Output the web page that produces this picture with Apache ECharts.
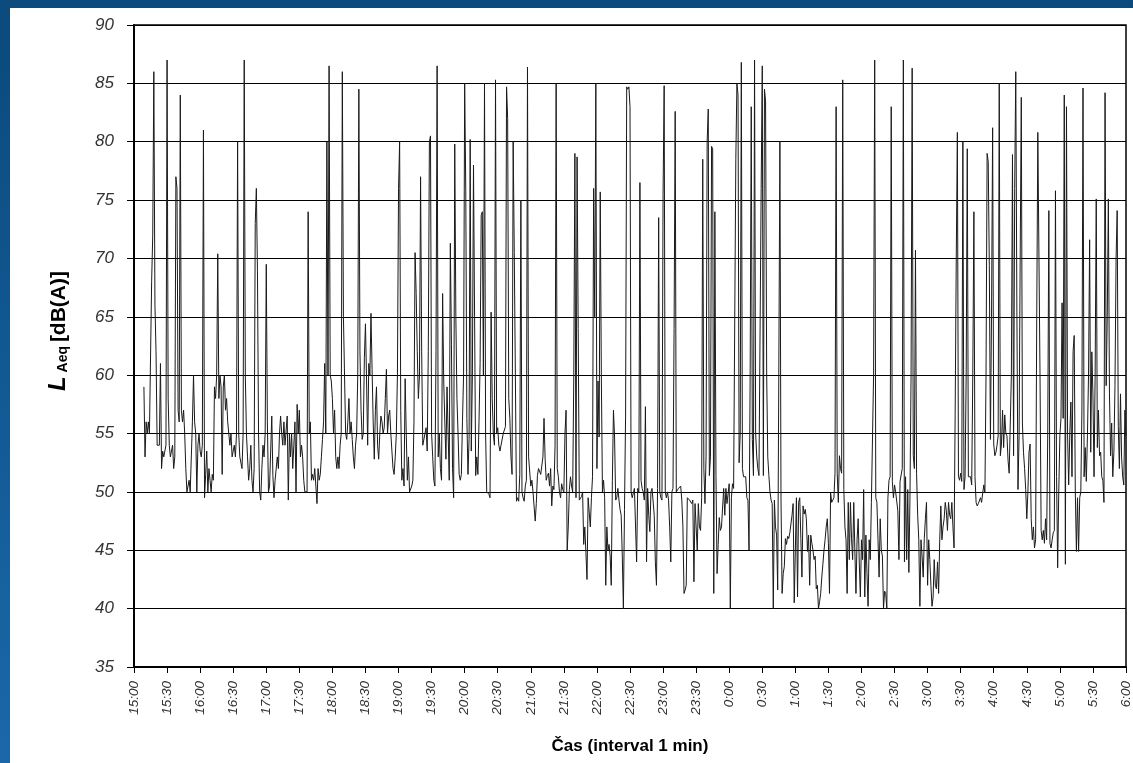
<!DOCTYPE html>
<html>
<head>
<meta charset="utf-8">
<script src="https://cdn.jsdelivr.net/npm/echarts@6/dist/echarts.min.js"></script>
<style>
html, body {
  margin: 0;
  padding: 0;
  width: 1133px;
  height: 763px;
  overflow: hidden;
  background: linear-gradient(to bottom, #0a4a7c 0%, #1a68aa 100%);
}
#chart {
  position: absolute;
  left: 10px;
  top: 8px;
  width: 1123px;
  height: 755px;
  background: #fff;
}
</style>
</head>
<body>
<div id="chart"></div>
<script>
// minutes counted from 15:00, one sample per minute
const startClock = 15 * 60
const startMinute = 9
const yTicks = [35, 40, 45, 50, 55, 60, 65, 70, 75, 80, 85, 90]

const laeq = [
  59, 53, 56, 55, 56, 55, 55, 68, 72, 86, 66,               // 15:09
  62, 54, 54, 54, 61, 52, 53.5, 53, 53, 54,                 // 15:20
  87, 58, 54, 53, 53, 54, 52, 53, 77, 76,                   // 15:30
  57, 56, 84, 57, 56, 57, 55, 52, 50, 50,
  51, 50, 50, 56, 60, 56, 55, 50, 54, 55,
  53.5, 53, 54, 81, 49.5, 51.5, 53.5, 50, 52, 51,           // 16:00
  50, 51.5, 51, 59, 58, 60, 70.4, 58, 60, 59,
  51.5, 59, 60, 57, 58, 56, 55, 54, 55, 53,
  53, 54, 53, 55, 80, 55, 53, 53, 52, 55,                   // 16:30
  87, 60, 55, 53, 51, 52, 54, 51, 50, 52,
  73, 76, 69, 55, 50, 49.3, 52, 54, 53, 55,
  69.5, 56, 50, 50.5, 50.5, 56.5, 51.4, 49.5, 51, 51,       // 17:00
  53, 52, 55, 56.5, 55, 54, 56, 54, 54, 56.5,
  49.3, 55, 53, 55, 52, 54, 56, 50, 57.5, 55,
  57, 53, 54, 53, 51, 50, 50, 50, 74, 55,                   // 17:30
  56, 51, 51.5, 51, 52, 50.5, 49, 52, 51, 51.5,
  53, 54.5, 56, 61, 55, 80, 60, 86.5, 60, 59.5,
  58, 55, 57, 53, 52, 53, 52, 54, 55, 86,                   // 18:00
  65, 65, 55, 54.5, 56, 58, 55, 56, 54.5, 53,
  52, 54, 55, 60, 84.5, 62, 57, 54.5, 55, 61.5,
  64.4, 59.5, 54, 61, 60, 65.3, 60.5, 56, 52.8, 57,         // 18:30
  59, 54, 52.8, 55, 56.5, 56, 55, 55.5, 58, 60.5,
  55, 56.5, 57, 55, 53.5, 52, 51.5, 53, 55, 60,
  76, 80, 57, 51, 52, 50.5, 59.7, 55, 51, 53,               // 19:00
  50, 50, 50.5, 51, 56, 70.5, 67, 62, 58, 60,
  77, 62, 54, 54, 55, 55.5, 53.5, 62, 80, 80.5,
  55, 53, 51, 50.5, 62, 86.5, 53, 55, 52, 51,               // 19:30
  67, 59.5, 56, 52.8, 59, 55, 51, 71.3, 62.6, 52,
  49.5, 79.8, 65, 58, 55, 51.5, 51, 51.5, 56, 60,
  85, 75.8, 56.3, 51.5, 54.5, 80.2, 53.5, 60, 78, 65,       // 20:00
  51.4, 53, 51.5, 56, 61, 73.7, 74, 60, 85, 55,
  50, 50, 49.8, 49.5, 65.4, 58, 55, 54, 85.3, 55,
  55.5, 54, 53.5, 54, 54, 55, 55.3, 55.6, 84.7, 82,         // 20:30
  58, 56.3, 53, 51.5, 80, 70.5, 60, 49.2, 49.5, 49.2,
  51.5, 75, 50, 49.5, 49.2, 50.5, 51, 86.4, 53, 53,
  50.5, 51, 50, 50, 47.5, 49, 51.4, 52, 52, 51.5,           // 21:00
  51.4, 53, 56.3, 52.8, 51, 51.4, 51.6, 50.5, 52, 48.8,
  50.5, 50.2, 54, 85, 52, 51.3, 50, 49.5, 50.7, 50.2,
  50, 55, 57, 45, 47, 50.2, 51.3, 50.5, 50, 60,             // 21:30
  79, 49.5, 78.7, 64, 49.3, 49.3, 49.6, 50, 45.5, 47,
  44.8, 42.5, 49.5, 49.5, 47, 49.5, 51.3, 76, 65, 85,
  52, 59.5, 54.7, 75.7, 60, 50, 51, 49.5, 42, 47,           // 22:00
  45, 45.5, 44.5, 42, 51, 57, 54.7, 49.3, 49.5, 50.3,
  49.3, 48.5, 48, 44.5, 40, 48.5, 56.5, 84.7, 84.5, 84.7,
  83, 50, 49.5, 49.5, 50.3, 50.3, 44, 50.3, 50, 76.5,       // 22:30
  51, 50.3, 50, 49.3, 57.3, 44, 50.3, 48, 46.6, 50,
  50.3, 50.3, 48, 44, 42, 50.3, 73.5, 50, 49.5, 49.3,
  75.5, 84.8, 50, 49.5, 50, 49.3, 47, 44, 50, 50.3,         // 23:00
  64, 82.6, 50, 50, 50.3, 50.3, 50.5, 49.3, 47, 41.3,
  41.6, 42, 49.5, 49.5, 49.3, 49.3, 49, 49.3, 42.3, 49,
  49, 45, 49, 47, 46.7, 49.5, 78.5, 52, 49, 53,             // 23:30
  80, 82.8, 51.4, 53, 79.6, 79.4, 41.3, 74, 51.4, 43,
  45.5, 47.8, 46.7, 47, 47, 50.3, 48, 50.3, 49, 49,
  50.7, 40, 49.5, 50.7, 50.3, 50.3, 78.5, 85, 84, 52.5,     // 0:00
  55, 86.8, 52, 51.3, 51.3, 51.3, 49.5, 49.3, 45, 60,
  83, 54.5, 51.4, 87, 55, 53, 52, 51.4, 51.5, 76,
  86.5, 51.4, 84.5, 83.5, 60, 53, 51.4, 50, 49.3, 49,       // 0:30
  40, 49.3, 47, 46.3, 41.6, 60, 80, 49.3, 41.3, 43,
  43.6, 46, 45.5, 46.2, 46, 46.5, 46.4, 48, 49, 40.5,
  40.5, 49.5, 41, 49.1, 49.5, 46, 42.7, 48.8, 48.1, 48.5,   // 1:00
  47.7, 44.9, 46.3, 42, 46.3, 45.6, 45, 44.2, 44.5, 41.7,
  42, 40, 40.6, 41.3, 42.7, 43.8, 45, 45.9, 47, 47.7,
  45.6, 41.3, 49.9, 49.1, 49.3, 49.5, 51.6, 83, 51.6, 49.1, // 1:30
  53.1, 52, 51.6, 85.3, 50.2, 47, 45.9, 41.3, 49.1, 44.2,
  49.1, 46, 44.2, 49.1, 45, 41.3, 45.9, 47.7, 44, 41,
  45.9, 44.2, 50.2, 41, 46.3, 43, 40.2, 45.9, 44.2, 49.1,   // 2:00
  49, 60, 87, 49.5, 49.1, 45.9, 42.7, 47.7, 45, 44.5,
  40, 41.5, 41.3, 40, 49.5, 51, 51.3, 83, 50.9, 49.5,
  50.6, 50, 49.9, 48.4, 44.2, 50.9, 51, 52, 87, 44,         // 2:30
  51.3, 44.2, 50.2, 43.1, 49.5, 60, 86.3, 53.1, 52, 70.7,
  51.6, 48, 45.9, 40.2, 45.9, 44.5, 42.7, 46, 47.7, 49.1,
  42, 45.9, 44.2, 42, 40.2, 41, 44.2, 42, 41.7, 44,         // 3:00
  41.3, 45.9, 48.8, 45.9, 47, 47.7, 49.1, 48.4, 46.7, 49.1,
  48, 47.7, 49.1, 47, 45.2, 56.6, 70, 80.8, 51.3, 51,
  51.6, 50.9, 80, 50.2, 51.3, 60, 79.4, 51.3, 51.3, 51.3,   // 3:30
  50.6, 60, 74, 51.3, 49.1, 48.8, 49, 49.1, 49.5, 49.1,
  49.9, 50.6, 49.9, 60, 79, 78.3, 69.4, 54.5, 65, 81.2,
  54.1, 53.1, 53.4, 54, 54.8, 85, 53.1, 54.1, 57, 53.8,     // 4:00
  56.6, 55, 54.8, 52.7, 51.6, 51.6, 60, 78.9, 53.1, 76,
  86, 65.5, 50.2, 54.8, 70, 83.8, 55.9, 53.4, 52, 50.2,
  47.7, 50, 53.4, 54.1, 47.7, 45.9, 47, 45.2, 45.9, 64.8,   // 4:30
  80.8, 80.8, 60, 46.7, 45.9, 46.7, 45.6, 47.7, 45.9, 55,
  74.1, 45.6, 45.2, 45.9, 46.5, 46.7, 75.8, 51.3, 43.5, 50,
  54.8, 56.3, 66.2, 56.3, 84, 43.8, 83, 54.8, 50.6, 55,     // 5:00
  57.7, 51.3, 62, 63.4, 50, 44.9, 49.5, 44.9, 49.5, 50,
  57, 84.6, 51.3, 53.8, 50.9, 54.8, 60, 71.6, 53.4, 62,
  58.4, 51.3, 60, 75.1, 53.8, 57, 53.1, 53.4, 51.3, 51,     // 5:30
  49.1, 84.2, 59.1, 65, 75.1, 58.4, 53.1, 55.9, 51.3, 53.4,
  59.1, 70, 74.1, 55.6, 52, 58.4, 53, 51.3, 50.6, 57,
  54.8                                                       // 6:00
]

const seriesData = laeq.map((v, i) => [startMinute + i, v])

function clockLabel(m) {
  const t = (startClock + m) % 1440
  const h = Math.floor(t / 60)
  const mm = t % 60
  return h + ':' + (mm < 10 ? '0' : '') + mm
}

const chart = echarts.init(document.getElementById('chart'), null, { renderer: 'canvas' })

chart.setOption({
  animation: false,
  backgroundColor: '#fff',
  textStyle: { fontFamily: 'Liberation Sans, Arial, sans-serif' },
  grid: {
    left: 124, right: 5, top: 17, bottom: 96,
    show: true, borderColor: '#000', borderWidth: 1.5, backgroundColor: 'transparent'
  },
  xAxis: {
    type: 'value',
    min: 0,
    max: 900,
    interval: 30,
    name: 'Čas (interval 1 min)',
    nameLocation: 'middle',
    nameGap: 71,
    nameTextStyle: { fontSize: 17, fontWeight: 'bold', color: '#000' },
    axisLine: { onZero: false, lineStyle: { color: '#000', width: 2 } },
    axisTick: { length: 6, lineStyle: { color: '#000', width: 1 } },
    axisLabel: {
      rotate: 90,
      margin: 14,
      fontSize: 13.5,
      fontStyle: 'italic',
      color: '#333',
      formatter: clockLabel
    },
    splitLine: { show: false }
  },
  yAxis: {
    type: 'value',
    min: yTicks[0],
    max: yTicks[yTicks.length - 1],
    interval: 5,
    name: '{l|L}{s| Aeq }{u|[dB(A)]}',
    nameLocation: 'middle',
    nameGap: 64,
    nameTextStyle: {
      color: '#000',
      padding: [0, 0, 0, 30],
      rich: {
        l: { fontSize: 24, fontWeight: 'bold', fontStyle: 'italic', lineHeight: 30, verticalAlign: 'bottom' },
        s: { fontSize: 14, fontWeight: 'bold', lineHeight: 30, verticalAlign: 'bottom', padding: [10, 0, 0, 0] },
        u: { fontSize: 21, fontWeight: 'bold', lineHeight: 30, verticalAlign: 'bottom' }
      }
    },
    axisLine: { show: true, lineStyle: { color: '#000', width: 2 } },
    axisTick: { show: true, length: 7, lineStyle: { color: '#000', width: 1 } },
    axisLabel: { margin: 20, fontSize: 17, fontStyle: 'italic', color: '#333' },
    splitLine: { show: true, lineStyle: { color: '#000', width: 1 } }
  },
  series: [
    {
      type: 'line',
      data: seriesData,
      showSymbol: false,
      symbol: 'none',
      sampling: 'none',
      lineStyle: { color: '#1a1a1a', width: 1 },
      z: 1
    }
  ]
})
</script>
</body>
</html>
